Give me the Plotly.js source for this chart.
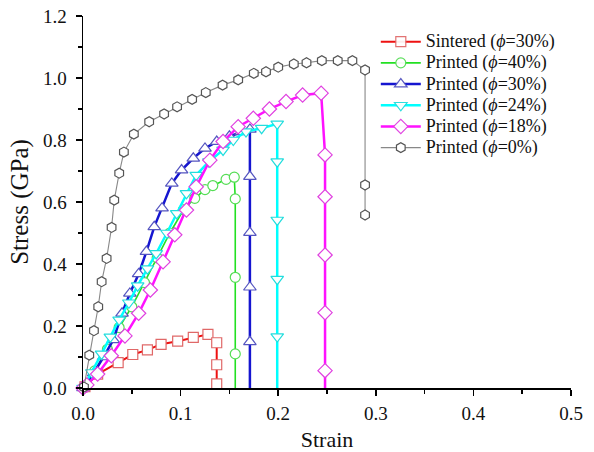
<!DOCTYPE html>
<html>
<head>
<meta charset="utf-8">
<script src="https://cdn.plot.ly/plotly-3.0.1.min.js"></script>
<style>html,body{margin:0;padding:0;background:#fff;}#chart{width:594px;height:452px;}</style>
</head>
<body>
<div id="chart"></div>
<script>
// Series names
const seriesNames = [
  'Sintered (<i>ϕ</i>=30%)',
  'Printed (<i>ϕ</i>=40%)',
  'Printed (<i>ϕ</i>=30%)',
  'Printed (<i>ϕ</i>=24%)',
  'Printed (<i>ϕ</i>=18%)',
  'Printed (<i>ϕ</i>=0%)'
];

// Sintered (phi=30%)
const sinteredX = [0.002, 0.015, 0.036, 0.051, 0.066, 0.080, 0.097, 0.113, 0.128, 0.137, 0.137, 0.137, 0.137];
const sinteredY = [0.004, 0.045, 0.082, 0.108, 0.123, 0.141, 0.151, 0.163, 0.173, 0.146, 0.075, 0.013, 0.000];

// Printed (phi=40%)
const p40X = [0.000, 0.012, 0.025, 0.037, 0.050, 0.063, 0.076, 0.089, 0.103, 0.1145, 0.125, 0.133, 0.1466, 0.155, 0.156, 0.156, 0.156, 0.156];
const p40Y = [0.000, 0.055, 0.125, 0.195, 0.262, 0.340, 0.420, 0.500, 0.575, 0.612, 0.640, 0.653, 0.673, 0.680, 0.610, 0.357, 0.110, 0.000];

// Printed (phi=30%)
const p30X = [0.000, 0.011, 0.021, 0.031, 0.040, 0.048, 0.057, 0.065, 0.073, 0.081, 0.091, 0.101, 0.113, 0.125, 0.137, 0.150, 0.162, 0.171, 0.171, 0.171, 0.171, 0.171, 0.171];
const p30Y = [0.000, 0.048, 0.100, 0.155, 0.241, 0.305, 0.368, 0.440, 0.520, 0.580, 0.660, 0.703, 0.741, 0.773, 0.795, 0.812, 0.826, 0.834, 0.682, 0.501, 0.325, 0.149, 0.000];

// Printed (phi=24%)
const p24X = [0.000, 0.009, 0.019, 0.028, 0.037, 0.047, 0.056, 0.066, 0.075, 0.086, 0.096, 0.106, 0.116, 0.129, 0.1435, 0.154, 0.167, 0.183, 0.199, 0.199, 0.199, 0.199, 0.199, 0.199];
const p24Y = [0.000, 0.050, 0.110, 0.165, 0.220, 0.275, 0.330, 0.385, 0.434, 0.500, 0.563, 0.628, 0.687, 0.730, 0.768, 0.800, 0.827, 0.838, 0.852, 0.730, 0.542, 0.351, 0.166, 0.000];

// Printed (phi=18%)
const p18X = [0.000, 0.004, 0.015, 0.029, 0.043, 0.057, 0.069, 0.082, 0.094, 0.106, 0.116, 0.130, 0.1435, 0.159, 0.1745, 0.191, 0.208, 0.225, 0.244, 0.248, 0.248, 0.248, 0.248, 0.248, 0.248];
const p18Y = [0.000, 0.010, 0.045, 0.104, 0.168, 0.241, 0.316, 0.407, 0.494, 0.574, 0.649, 0.735, 0.795, 0.843, 0.870, 0.900, 0.924, 0.945, 0.951, 0.752, 0.617, 0.429, 0.243, 0.056, 0.000];

// Printed (phi=0%)
const p0X = [0.001, 0.0064, 0.0112, 0.0156, 0.0191, 0.0242, 0.0293, 0.0320, 0.0371, 0.0419, 0.0521, 0.0678, 0.0831, 0.0964, 0.1118, 0.1258, 0.143, 0.159, 0.175, 0.1875, 0.200, 0.216, 0.229, 0.2447, 0.261, 0.276, 0.289, 0.289, 0.289];
const p0Y = [0.003, 0.106, 0.185, 0.262, 0.343, 0.418, 0.518, 0.606, 0.693, 0.761, 0.819, 0.859, 0.884, 0.907, 0.931, 0.953, 0.977, 0.994, 1.015, 1.020, 1.035, 1.045, 1.049, 1.056, 1.056, 1.056, 1.026, 0.655, 0.558];

// Tick labels
const xTicks = [0, 0.1, 0.2, 0.3, 0.4, 0.5];
const xTickText = ['0.0', '0.1', '0.2', '0.3', '0.4', '0.5'];
const yTicks = [0, 0.2, 0.4, 0.6, 0.8, 1.0, 1.2];
const yTickText = ['0.0', '0.2', '0.4', '0.6', '0.8', '1.0', '1.2'];

const serif = 'Liberation Serif';

function mk(x, y, name, lineColor, lineWidth, symbol, mColor, mSize) {
  // hide the marker on a final point that sits on the strain axis (line only reaches it)
  const op = y.map((v, i) => (i === y.length - 1 && v === 0) ? 0 : 1);
  return {
    x: x, y: y, name: '<span style="font-size:18px">' + name + '</span>',
    type: 'scatter', mode: 'lines+markers',
    line: {color: lineColor, width: lineWidth},
    marker: {symbol: symbol, size: mSize, color: 'rgba(255,255,255,1)', opacity: op, line: {color: mColor, width: 1.2}},
    cliponaxis: false
  };
}

const traces = [
  mk(sinteredX, sinteredY, seriesNames[0], '#ee1111', 2, 'square', '#e06868', 10),
  mk(p40X, p40Y, seriesNames[1], '#22e022', 1.6, 'circle', '#55dd55', 10),
  mk(p30X, p30Y, seriesNames[2], '#1515d0', 2.5, 'triangle-up', '#5555c0', 11),
  mk(p24X, p24Y, seriesNames[3], '#00ffff', 2.5, 'triangle-down', '#22dddd', 11),
  mk(p18X, p18Y, seriesNames[4], '#ff11ff', 2.5, 'diamond', '#e040e0', 11),
  mk(p0X, p0Y, seriesNames[5], '#888888', 1.1, 'hexagon', '#555555', 10)
];

const axisCommon = {
  showgrid: false, zeroline: false, showline: true, linecolor: '#000', linewidth: 1.5,
  ticks: 'outside', ticklen: 6, tickwidth: 1.5, tickcolor: '#000',
  tickfont: {family: serif, size: 19, color: '#111'},
  mirror: false
};

const layout = {
  width: 594, height: 452,
  margin: {l: 83, r: 23, t: 16, b: 64},
  font: {family: serif, color: '#111'},
  paper_bgcolor: '#fff', plot_bgcolor: '#fff',
  showlegend: true,
  xaxis: Object.assign({}, axisCommon, {
    range: [0, 0.5], tickvals: xTicks, ticktext: xTickText,
    ticklabelstandoff: 2,
    minor: {dtick: 0.05, ticks: 'outside', ticklen: 4, tickwidth: 1.5, tickcolor: '#000'},
    title: {text: 'Strain', font: {family: serif, size: 22, color: '#111'}, standoff: 12}
  }),
  yaxis: Object.assign({}, axisCommon, {
    range: [0, 1.2], tickvals: yTicks, ticktext: yTickText,
    ticklabelstandoff: 5,
    minor: {dtick: 0.1, ticks: 'outside', ticklen: 4, tickwidth: 1.5, tickcolor: '#000'},
    title: {text: 'Stress (GPa)', font: {family: serif, size: 25, color: '#111'}, standoff: 7}
  }),
  legend: {
    x: 0.6, y: 0.973, xanchor: 'left', yanchor: 'top',
    bgcolor: 'rgba(0,0,0,0)', borderwidth: 0,
    font: {family: serif, size: 14, color: '#111'},
    itemwidth: 40, tracegroupgap: 0
  }
};

Plotly.newPlot('chart', traces, layout, {displayModeBar: false, staticPlot: true});
</script>
</body>
</html>
